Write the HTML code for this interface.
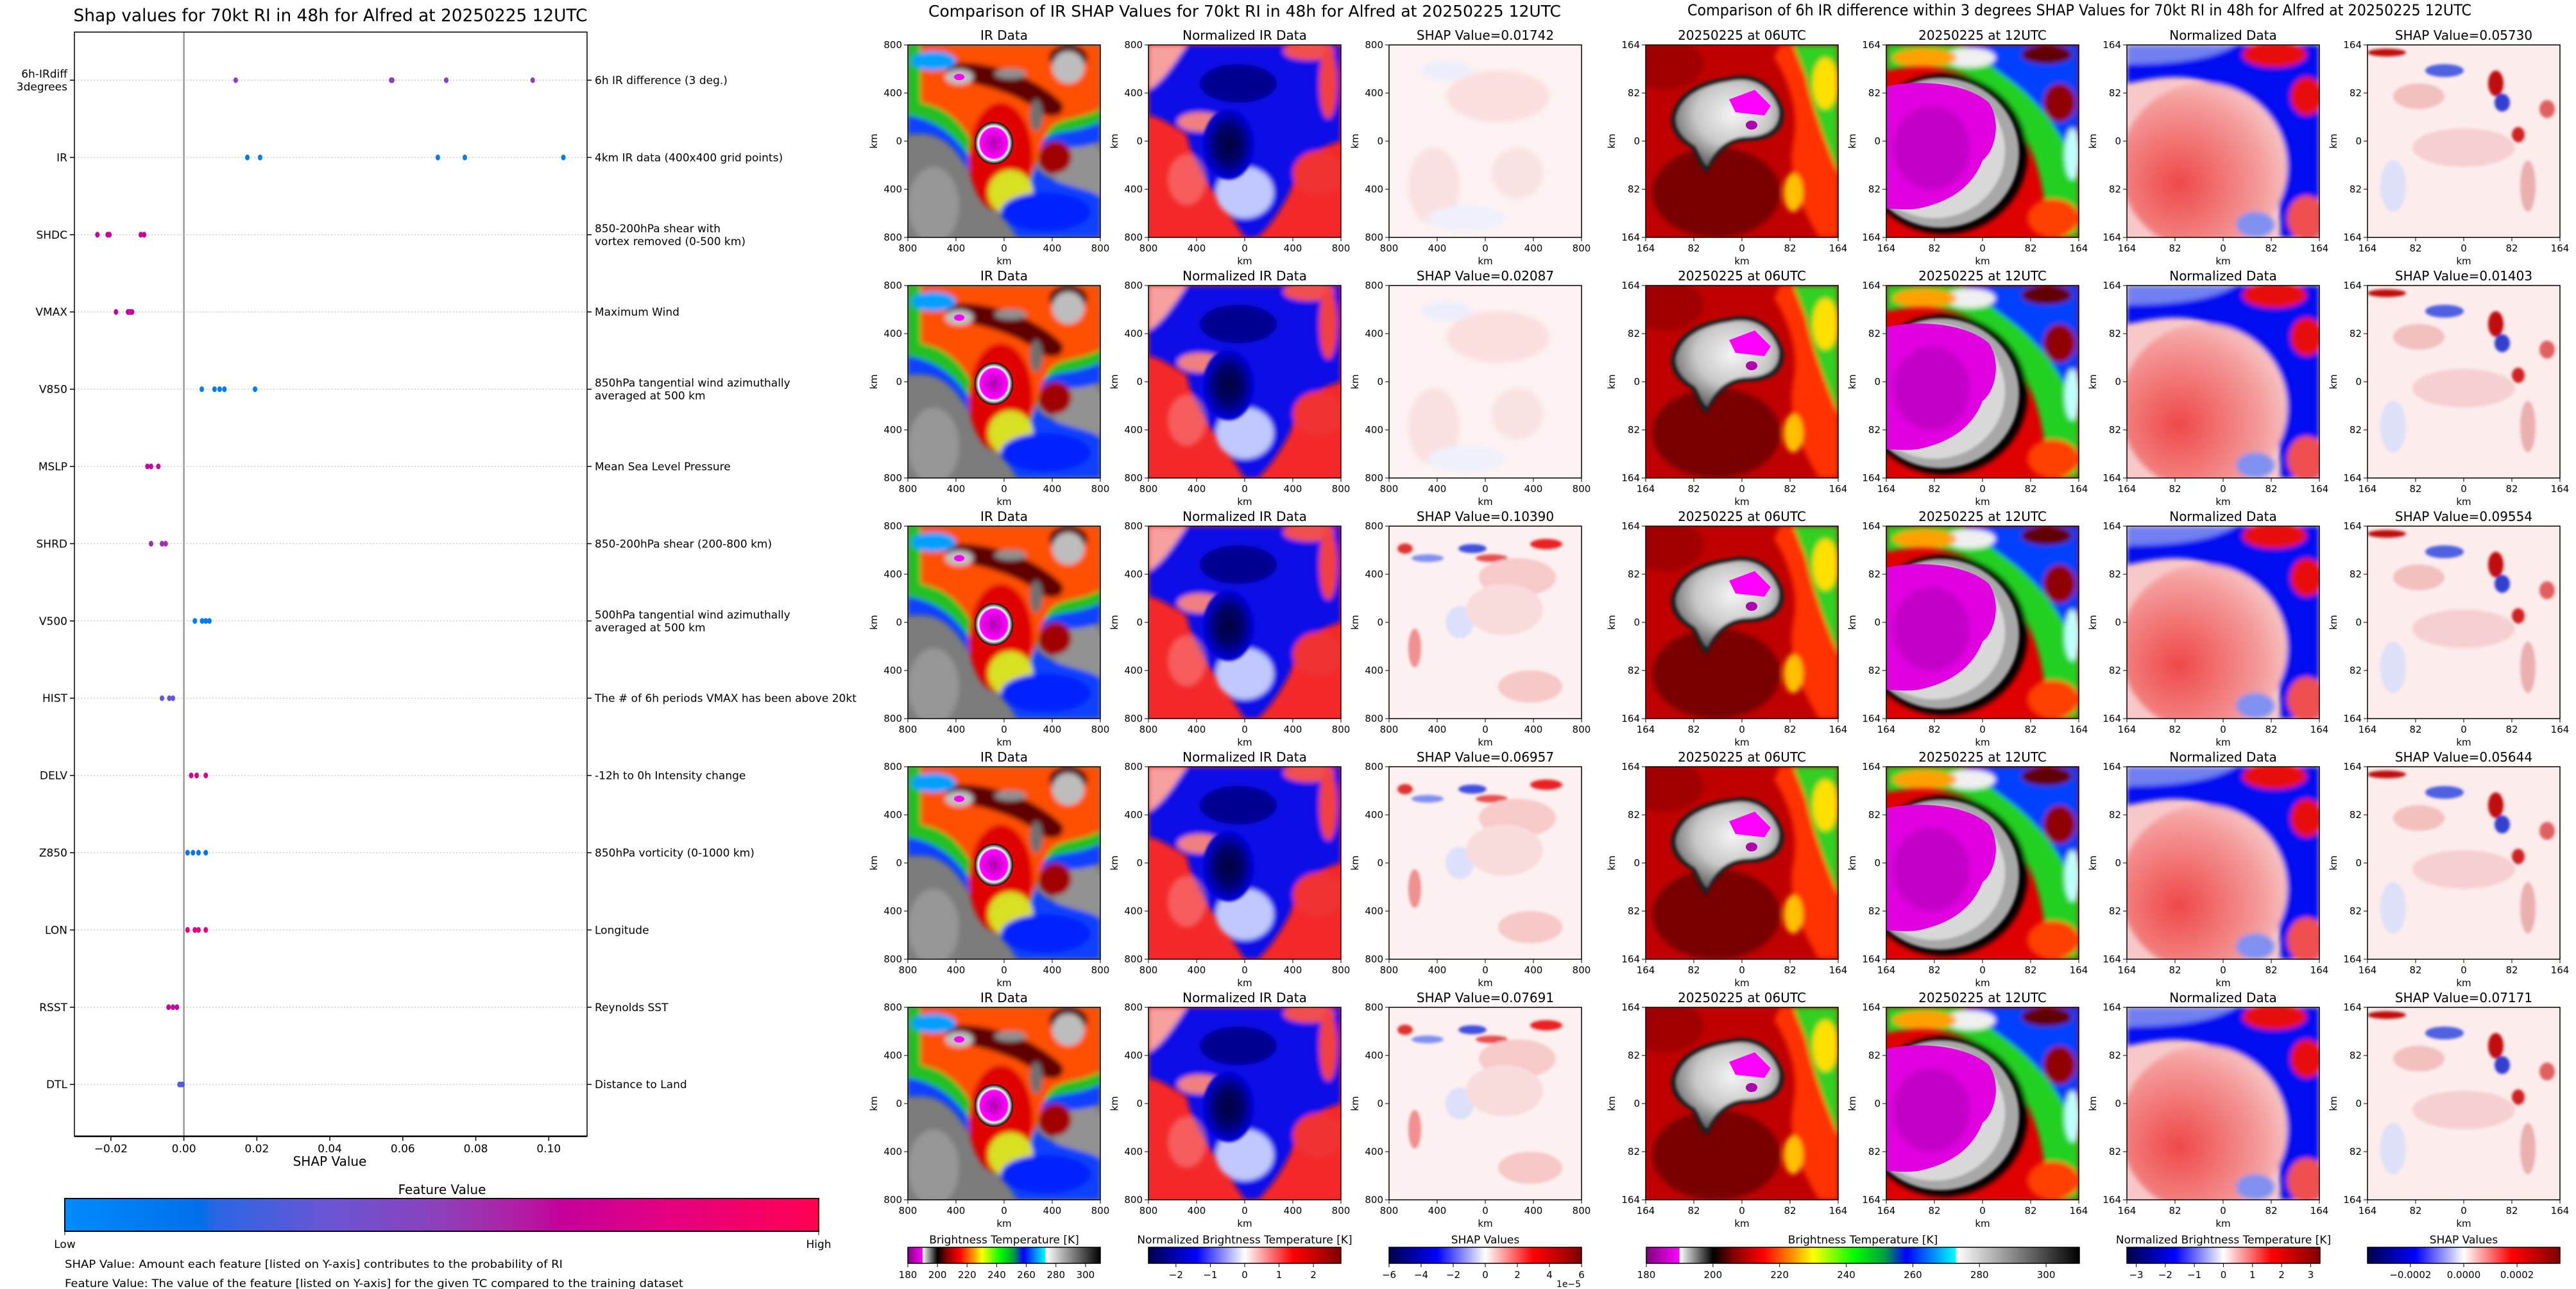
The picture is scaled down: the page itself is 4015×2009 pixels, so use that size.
<!DOCTYPE html>
<html><head><meta charset="utf-8"><title>SHAP RI Alfred</title>
<style>
html,body{margin:0;padding:0;background:#fff;}
svg{display:block;font-family:"DejaVu Sans","Liberation Sans",sans-serif;}
</style></head>
<body>
<svg id="fig" width="4015" height="2009" viewBox="0 0 4015 2009" xmlns="http://www.w3.org/2000/svg">
<defs>
 <filter id="bl" x="-5%" y="-5%" width="110%" height="110%"><feGaussianBlur stdDeviation="4"/></filter>
 <filter id="bl2" x="-5%" y="-5%" width="110%" height="110%"><feGaussianBlur stdDeviation="2"/></filter>
 <clipPath id="pc"><rect x="0" y="0" width="300" height="300"/></clipPath>
 <linearGradient id="gShap" x1="0" x2="1" y1="0" y2="0">
  <stop offset="0" stop-color="#008bfb"/><stop offset="0.18" stop-color="#0070ea"/>
  <stop offset="0.2" stop-color="#2a66e4"/><stop offset="0.35" stop-color="#6a55d4"/>
  <stop offset="0.5" stop-color="#8e3fba"/><stop offset="0.6" stop-color="#b01fa5"/>
  <stop offset="0.66" stop-color="#c5009a"/><stop offset="0.8" stop-color="#e40080"/>
  <stop offset="1" stop-color="#ff0052"/></linearGradient>
 <linearGradient id="gBT" x1="0" x2="1" y1="0" y2="0">
  <stop offset="0" stop-color="#800080"/><stop offset="0.076" stop-color="#ff00ff"/>
  <stop offset="0.077" stop-color="#ffffff"/><stop offset="0.154" stop-color="#000000"/>
  <stop offset="0.2" stop-color="#800000"/><stop offset="0.27" stop-color="#ff0000"/>
  <stop offset="0.33" stop-color="#ff8000"/><stop offset="0.385" stop-color="#ffff00"/>
  <stop offset="0.48" stop-color="#00ff00"/><stop offset="0.55" stop-color="#00a040"/>
  <stop offset="0.6" stop-color="#0000ff"/><stop offset="0.714" stop-color="#00ffff"/>
  <stop offset="0.716" stop-color="#ffffff"/><stop offset="1" stop-color="#000000"/></linearGradient>
 <linearGradient id="gSeis" x1="0" x2="1" y1="0" y2="0">
  <stop offset="0" stop-color="#00004c"/><stop offset="0.25" stop-color="#0000ff"/>
  <stop offset="0.5" stop-color="#ffffff"/><stop offset="0.75" stop-color="#ff0000"/>
  <stop offset="1" stop-color="#800000"/></linearGradient>
 <radialGradient id="rEye" cx="0.5" cy="0.5" r="0.5"><stop offset="0" stop-color="#b000b0"/><stop offset="0.7" stop-color="#ff00ff"/><stop offset="0.8" stop-color="#ffffff"/><stop offset="0.9" stop-color="#808080"/><stop offset="1" stop-color="#000"/></radialGradient>
 <radialGradient id="rNav" cx="0.5" cy="0.5" r="0.5"><stop offset="0" stop-color="#00003c"/><stop offset="0.5" stop-color="#00006a"/><stop offset="1" stop-color="#0000e0"/></radialGradient>
 <radialGradient id="rPale" cx="0.35" cy="0.6" r="0.7"><stop offset="0" stop-color="#f04848"/><stop offset="0.7" stop-color="#f49a9a"/><stop offset="1" stop-color="#f8c8c8"/></radialGradient>
 <radialGradient id="rGray" cx="0.55" cy="0.4" r="0.6"><stop offset="0" stop-color="#f4f4f4"/><stop offset="0.6" stop-color="#c8c8c8"/><stop offset="1" stop-color="#707070"/></radialGradient>

 <symbol id="irImg" viewBox="0 0 300 300">
  <g clip-path="url(#pc)">
  <rect width="300" height="300" fill="#7c7c7c"/>
  <g filter="url(#bl)">
   <ellipse cx="40" cy="250" rx="40" ry="60" fill="#a8a8a8" opacity="0.6"/>
   <ellipse cx="270" cy="200" rx="40" ry="50" fill="#a0a0a0" opacity="0.6"/>
   <path d="M0 0 H300 V150 C260 170 220 150 200 170 C180 220 300 220 300 240 V300 H170 C150 260 120 250 110 220 C80 170 60 130 0 140 Z" fill="#1040ff"/>
   <path d="M0 0 H300 V120 C260 140 230 130 210 150 C190 200 200 230 160 250 C140 240 120 220 110 200 C90 160 60 120 0 110 Z" fill="#20c020"/>
   <path d="M20 0 H300 V100 C260 120 230 110 215 140 C200 180 200 200 170 230 C150 230 130 210 120 190 C100 150 80 100 20 90 Z" fill="#ff5000"/>
   <ellipse cx="145" cy="175" rx="50" ry="85" fill="#e00000"/>
   <ellipse cx="160" cy="230" rx="35" ry="35" fill="#d8e020"/>
   <path d="M60 30 C120 20 200 50 240 90 C250 110 220 120 200 100 C160 70 100 60 60 50 Z" fill="#600000"/>
   <ellipse cx="250" cy="20" rx="30" ry="20" fill="#500000"/>
   <ellipse cx="80" cy="50" rx="22" ry="12" fill="#c0c0c0"/>
   <ellipse cx="160" cy="45" rx="25" ry="8" fill="#909090"/>
   <ellipse cx="250" cy="35" rx="25" ry="25" fill="#bdbdbd"/>
   <ellipse cx="200" cy="110" rx="10" ry="25" fill="#707070"/>
   <ellipse cx="215" cy="260" rx="70" ry="30" fill="#0020ff"/>
   <ellipse cx="40" cy="25" rx="35" ry="15" fill="#00a0ff"/>
   <ellipse cx="230" cy="175" rx="25" ry="25" fill="#a00000"/>
  </g>
  <ellipse cx="134" cy="153" rx="30" ry="33" fill="url(#rEye)"/>
  <ellipse cx="80" cy="50" rx="8" ry="5" fill="#ff00ff"/>
  </g>
 </symbol>
 <symbol id="nirImg" viewBox="0 0 300 300">
  <g clip-path="url(#pc)">
  <rect width="300" height="300" fill="#f42828"/>
  <g filter="url(#bl)">
   <path d="M0 0 H300 V150 C260 160 240 180 220 230 C200 270 180 290 170 300 H150 C120 250 70 200 60 140 C30 120 10 110 0 110 Z" fill="#0a0ae8"/>
   <path d="M0 0 H60 C40 30 20 60 0 70 Z" fill="#f6a0a0"/>
   <ellipse cx="250" cy="10" rx="40" ry="14" fill="#f05050"/>
   <ellipse cx="280" cy="60" rx="14" ry="55" fill="#f04040"/>
   <ellipse cx="150" cy="230" rx="45" ry="40" fill="#c0c8ff"/>
   <ellipse cx="80" cy="120" rx="35" ry="15" fill="#f08080"/>
   <ellipse cx="265" cy="200" rx="40" ry="35" fill="#f03030"/>
   <ellipse cx="60" cy="210" rx="30" ry="40" fill="#f88080" opacity="0.6"/>
   <ellipse cx="140" cy="60" rx="60" ry="30" fill="#000090"/>
  </g>
  <ellipse cx="125" cy="155" rx="40" ry="55" fill="url(#rNav)" filter="url(#bl2)"/>
  </g>
 </symbol>
 <symbol id="sirImg" viewBox="0 0 300 300">
  <rect width="300" height="300" fill="#fdf2f2"/>
  <g filter="url(#bl)">
   <ellipse cx="170" cy="80" rx="80" ry="40" fill="#fbdede"/>
   <ellipse cx="70" cy="220" rx="40" ry="60" fill="#fae0e0"/>
   <ellipse cx="120" cy="270" rx="60" ry="20" fill="#eef0fc"/>
   <ellipse cx="200" cy="200" rx="40" ry="40" fill="#f9e2e2"/>
   <ellipse cx="90" cy="40" rx="40" ry="15" fill="#eceefc"/>
  </g>
 </symbol>
 <symbol id="sirImg2" viewBox="0 0 300 300">
  <rect width="300" height="300" fill="#fdf0f0"/>
  <g filter="url(#bl2)">
   <ellipse cx="25" cy="35" rx="12" ry="8" fill="#e03030"/>
   <ellipse cx="130" cy="35" rx="22" ry="7" fill="#4050e0"/>
   <ellipse cx="160" cy="50" rx="25" ry="6" fill="#e85050"/>
   <ellipse cx="245" cy="28" rx="25" ry="8" fill="#e82020"/>
   <ellipse cx="60" cy="50" rx="25" ry="6" fill="#8090f0"/>
   <ellipse cx="200" cy="80" rx="60" ry="30" fill="#f7caca"/>
   <ellipse cx="110" cy="150" rx="22" ry="25" fill="#dde0fa"/>
   <ellipse cx="40" cy="190" rx="10" ry="30" fill="#f09090"/>
   <ellipse cx="220" cy="250" rx="50" ry="25" fill="#f6c8c8"/>
   <ellipse cx="180" cy="130" rx="60" ry="40" fill="#f8dcdc"/>
  </g>
 </symbol>
 <symbol id="u06Img" viewBox="0 0 300 300">
  <g clip-path="url(#pc)">
  <rect width="300" height="300" fill="#c00000"/>
  <g filter="url(#bl)">
   <ellipse cx="110" cy="230" rx="100" ry="70" fill="#780000"/>
   <ellipse cx="30" cy="30" rx="60" ry="40" fill="#a00000"/>
   <path d="M210 0 H300 V300 H270 C240 250 220 200 230 150 C240 100 220 50 200 20 Z" fill="#ff3000"/>
   <path d="M230 0 H300 V200 C280 150 260 100 250 50 Z" fill="#30d020"/>
   <ellipse cx="280" cy="60" rx="20" ry="40" fill="#ffe000"/>
   <ellipse cx="230" cy="230" rx="15" ry="30" fill="#ffc000"/>
  </g>
  <g filter="url(#bl2)">
   <path d="M40 110 C50 70 90 55 130 50 C170 40 200 60 215 100 C220 130 200 150 160 150 C130 150 110 170 95 200 C80 190 80 170 70 160 C50 150 35 130 40 110 Z" fill="#202020"/>
   <path d="M48 110 C58 76 94 62 130 57 C168 48 196 66 207 100 C210 126 194 142 158 143 C128 144 108 162 96 188 C86 180 84 164 76 156 C58 146 44 128 48 110 Z" fill="url(#rGray)"/>
  </g>
  <path d="M130 85 L170 70 L195 95 L185 110 L140 105 Z" fill="#ff00ff"/>
  <ellipse cx="165" cy="125" rx="9" ry="7" fill="#b000b0"/>
  </g>
 </symbol>
 <symbol id="u12Img" viewBox="0 0 300 300">
  <g clip-path="url(#pc)">
  <rect width="300" height="300" fill="#e00000"/>
  <g filter="url(#bl)">
   <path d="M0 0 H300 V300 H250 C250 200 220 120 150 60 C100 30 50 30 0 40 Z" fill="#20d020"/>
   <path d="M120 0 H300 V200 C280 150 250 100 200 60 Z" fill="#0040ff"/>
   <ellipse cx="250" cy="15" rx="40" ry="15" fill="#600000"/>
   <ellipse cx="270" cy="90" rx="25" ry="30" fill="#900000"/>
   <ellipse cx="130" cy="20" rx="40" ry="15" fill="#f0f0f0"/>
   <ellipse cx="60" cy="20" rx="50" ry="14" fill="#ffa000"/>
   <ellipse cx="260" cy="270" rx="40" ry="30" fill="#ff4000"/>
   <ellipse cx="290" cy="170" rx="12" ry="40" fill="#c0ffff"/>
   <ellipse cx="90" cy="170" rx="130" ry="125" fill="#000"/>
  </g>
  <g filter="url(#bl2)">
   <ellipse cx="85" cy="168" rx="122" ry="117" fill="#a8a8a8"/>
   <ellipse cx="75" cy="165" rx="110" ry="105" fill="#d8d8d8"/>
  </g>
  <path d="M0 65 C40 55 120 55 160 90 C180 120 170 165 150 180 C135 220 100 245 50 255 C30 258 10 255 0 255 Z" fill="#e000e0"/>
  <ellipse cx="70" cy="160" rx="60" ry="65" fill="#b000b8" opacity="0.6" filter="url(#bl)"/>
  </g>
 </symbol>
 <symbol id="ndImg" viewBox="0 0 300 300">
  <g clip-path="url(#pc)">
  <rect width="300" height="300" fill="#f8c8c8"/>
  <g filter="url(#bl)">
   <path d="M0 0 H300 V300 H240 C240 200 210 120 150 70 C100 40 50 50 0 60 Z" fill="#0010f0"/>
   <path d="M0 0 H170 C140 20 80 30 0 30 Z" fill="#7080f0"/>
   <ellipse cx="230" cy="15" rx="50" ry="20" fill="#e81010"/>
   <ellipse cx="280" cy="80" rx="25" ry="30" fill="#e81010"/>
   <ellipse cx="280" cy="270" rx="30" ry="35" fill="#f05050"/>
   <ellipse cx="120" cy="190" rx="130" ry="130" fill="url(#rPale)"/>
   <ellipse cx="200" cy="280" rx="30" ry="20" fill="#8090f0"/>
  </g>
  </g>
 </symbol>
 <symbol id="sdImg" viewBox="0 0 300 300">
  <rect width="300" height="300" fill="#fcecec"/>
  <g filter="url(#bl2)">
   <ellipse cx="30" cy="12" rx="30" ry="6" fill="#c01010"/>
   <ellipse cx="120" cy="40" rx="30" ry="10" fill="#5060e0"/>
   <ellipse cx="200" cy="60" rx="12" ry="20" fill="#c01010"/>
   <ellipse cx="210" cy="90" rx="12" ry="14" fill="#3040d0"/>
   <ellipse cx="235" cy="140" rx="10" ry="12" fill="#d02020"/>
   <ellipse cx="280" cy="100" rx="12" ry="14" fill="#e06060"/>
   <ellipse cx="80" cy="80" rx="40" ry="20" fill="#f3c0c0"/>
   <ellipse cx="150" cy="160" rx="80" ry="30" fill="#f6d0d0"/>
   <ellipse cx="40" cy="220" rx="20" ry="40" fill="#dde0f8"/>
   <ellipse cx="250" cy="220" rx="12" ry="40" fill="#eab0b0"/>
  </g>
 </symbol>
</defs>
<g id="root"></g>
</svg>
<script>
const featureNames = ["6h-IRdiff|3degrees","IR","SHDC","VMAX","V850","MSLP","SHRD","V500","HIST","DELV","Z850","LON","RSST","DTL"];
const featureDescriptions = ["6h IR difference (3 deg.)","4km IR data (400x400 grid points)","850-200hPa shear with|vortex removed (0-500 km)","Maximum Wind","850hPa tangential wind azimuthally|averaged at 500 km","Mean Sea Level Pressure","850-200hPa shear (200-800 km)","500hPa tangential wind azimuthally|averaged at 500 km","The # of 6h periods VMAX has been above 20kt","-12h to 0h Intensity change","850hPa vorticity (0-1000 km)","Longitude","Reynolds SST","Distance to Land"];
const shapValues = [
 [0.0142,0.0568,0.0571,0.0719,0.0956],
 [0.0174,0.0209,0.0696,0.0770,0.1040],
 [-0.0237,-0.0209,-0.0204,-0.0118,-0.0109],
 [-0.0186,-0.0153,-0.0149,-0.0146,-0.0142],
 [0.0049,0.0084,0.0098,0.0111,0.0195],
 [-0.0100,-0.0090,-0.0070],
 [-0.0090,-0.0060,-0.0050],
 [0.0030,0.0050,0.0060,0.0070],
 [-0.0060,-0.0040,-0.0030],
 [0.0020,0.0035,0.0060],
 [0.0010,0.0025,0.0040,0.0060],
 [0.0010,0.0030,0.0040,0.0060],
 [-0.0042,-0.0030,-0.0019],
 [-0.0012,-0.0008,-0.0004]
];
const featureValues = [0.5,0.1,0.65,0.66,0.1,0.64,0.55,0.1,0.35,0.75,0.15,0.8,0.65,0.3];
const xTicks = [-0.02,0.00,0.02,0.04,0.06,0.08,0.10];
const xTickLabels = ["\u22120.02","0.00","0.02","0.04","0.06","0.08","0.10"];

const irShapTitles = ["0.01742","0.02087","0.10390","0.06957","0.07691"];
const diffShapTitles = ["0.05730","0.01403","0.09554","0.05644","0.07171"];
const kmTicks800 = ["800","400","0","400","800"];
const kmTicks164 = ["164","82","0","82","164"];
const btTicks = [180,200,220,240,260,280,300];
const nirTicks = [-2,-1,0,1,2];
const sirTicks = [-6,-4,-2,0,2,4,6];
const ndTicks = [-3,-2,-1,0,1,2,3];
const sdTicks = [-0.0002,0,0.0002];
const sdTickLabels = ["\u22120.0002","0.0000","0.0002"];

const NS="http://www.w3.org/2000/svg";
const root=document.getElementById('root');
function mk(tag,attrs,parent){const e=document.createElementNS(NS,tag);for(const k in attrs)e.setAttribute(k,attrs[k]);(parent||root).appendChild(e);return e;}
function txt(x,y,s,size,anchor,parent,extra){const e=mk('text',Object.assign({x:x,y:y,'font-size':size,'text-anchor':anchor||'middle',fill:'#000'},extra||{}),parent);e.textContent=s;return e;}

const AX={l:116,r:915,t:50,b:1771};
const xMin=-0.0300,xMax=0.1105;
function xs(v){return AX.l+(v-xMin)/(xMax-xMin)*(AX.r-AX.l);}
function ys(i){return 125+i*120.4;}
const cstops=[[0,[0,139,251]],[0.18,[0,112,234]],[0.2,[42,102,228]],[0.35,[106,85,212]],[0.5,[142,63,186]],[0.6,[176,31,165]],[0.66,[197,0,154]],[0.8,[228,0,128]],[1,[255,0,82]]];
function fcol(v){for(let i=1;i<cstops.length;i++){if(v<=cstops[i][0]){const a=cstops[i-1],b=cstops[i];const t=(v-a[0])/(b[0]-a[0]);const c=a[1].map((q,j)=>Math.round(q+(b[1][j]-q)*t));return 'rgb('+c.join(',')+')';}}return 'rgb(255,0,82)';}

const shapG=mk('g',{});


const t1=txt(515,33,"Shap values for 70kt RI in 48h for Alfred at 20250225 12UTC",27,'middle',shapG,{textLength:801,lengthAdjust:'spacingAndGlyphs'});


featureNames.forEach((n,i)=>{
 const y=ys(i);
 const gl=mk('line',{x1:AX.l,x2:AX.r,y1:y,y2:y,stroke:'#cccccc','stroke-width':1.5,'stroke-dasharray':'2,3'},shapG);
 
 
 mk('line',{x1:AX.l-7,x2:AX.l,y1:y,y2:y,stroke:'#000','stroke-width':1.5},shapG);
 mk('line',{x1:AX.r,x2:AX.r+7,y1:y,y2:y,stroke:'#000','stroke-width':1.5},shapG);
 const parts=n.split('|');
 parts.forEach((p,k)=>{const e=txt(AX.l-11,y+6+(k-(parts.length-1)/2)*20,p,17,'end',shapG);
  
  });
 const dp=featureDescriptions[i].split('|');
 dp.forEach((p,k)=>{const e=txt(AX.r+12,y+6+(k-(dp.length-1)/2)*20,p,17,'start',shapG);
  
  });
});
const zl=mk('line',{x1:xs(0),x2:xs(0),y1:AX.t,y2:AX.b,stroke:'#999','stroke-width':2.5},shapG);


shapValues.forEach((arr,i)=>{arr.forEach(v=>{
 const c=mk('ellipse',{cx:xs(v),cy:ys(i),rx:3.5,ry:4.5,fill:fcol(featureValues[i])},shapG);
 
 
});});
const fr=mk('rect',{x:AX.l,y:AX.t,width:AX.r-AX.l,height:AX.b-AX.t,fill:'none',stroke:'#000','stroke-width':1.5},shapG);


mk('line',{x1:AX.l,x2:AX.r,y1:AX.b,y2:AX.b,stroke:'#000','stroke-width':2.5},shapG);
xTicks.forEach((v,i)=>{mk('line',{x1:xs(v),x2:xs(v),y1:AX.b,y2:AX.b+7,stroke:'#000','stroke-width':1.5},shapG);
 const e=txt(xs(v),AX.b+25,xTickLabels[i],17,'middle',shapG);
 
 });
const xl=txt(514,1817,"SHAP Value",20,'middle',shapG);


const cbt=txt(689,1861,"Feature Value",20,'middle',shapG);


const cb=mk('rect',{x:101,y:1868,width:1175,height:51,fill:'url(#gShap)',stroke:'#000','stroke-width':2},shapG);


mk('line',{x1:101,x2:101,y1:1919,y2:1925,stroke:'#000'},shapG);
mk('line',{x1:1276,x2:1276,y1:1919,y2:1925,stroke:'#000'},shapG);
const lo=txt(101,1945,"Low",17,'middle',shapG);
const hi=txt(1276,1945,"High",17,'middle',shapG);
const n1=txt(101,1976,"SHAP Value: Amount each feature [listed on Y-axis] contributes to the probability of RI",17,'start',shapG,{textLength:776,lengthAdjust:'spacingAndGlyphs'});

const n2=txt(101,2006,"Feature Value: The value of the feature [listed on Y-axis] for the given TC compared to the training dataset",17,'start',shapG,{textLength:964,lengthAdjust:'spacingAndGlyphs'});


const rowTops=[70,445,820,1195,1570];
const S=300;
function panel(x,y,sym,title,ticks,name){
 const g=mk('g',{});
 
 
 mk('use',{href:'#'+sym,x:x,y:y,width:S,height:S},g);
 mk('rect',{x:x,y:y,width:S,height:S,fill:'none',stroke:'#000','stroke-width':1.5},g);
 const tt=txt(x+S/2,y-8,title,20,'middle',g);
 
 
 ticks.forEach((lab,i)=>{const p=i*S/4;
  mk('line',{x1:x+p,x2:x+p,y1:y+S,y2:y+S+6,stroke:'#000'},g);
  mk('line',{x1:x-6,x2:x,y1:y+p,y2:y+p,stroke:'#000'},g);
  txt(x+p,y+S+22,lab,15,'middle',g);
  txt(x-9,y+p+5,lab,15,'end',g);});
 txt(x+S/2,y+S+42,'km',15,'middle',g);
 txt(0,0,'km',15,'middle',g,{transform:'translate('+(x-48)+','+(y+S/2)+') rotate(-90)'});
 return g;
}
const c1=[1415,1790,2165], c2=[2565,2940,3315,3690];
rowTops.forEach((y,r)=>{
 panel(c1[0],y,'irImg','IR Data',kmTicks800,'ir-data-panel');
 panel(c1[1],y,'nirImg','Normalized IR Data',kmTicks800,'normalized-ir-panel');
 panel(c1[2],y,r>=2?'sirImg2':'sirImg','SHAP Value='+irShapTitles[r],kmTicks800,'ir-shap-panel');
 panel(c2[0],y,'u06Img','20250225 at 06UTC',kmTicks164,'ir-06utc-panel');
 panel(c2[1],y,'u12Img','20250225 at 12UTC',kmTicks164,'ir-12utc-panel');
 panel(c2[2],y,'ndImg','Normalized Data',kmTicks164,'normalized-diff-panel');
 panel(c2[3],y,'sdImg','SHAP Value='+diffShapTitles[r],kmTicks164,'diff-shap-panel');
});
const mt=txt(1940,26,"Comparison of IR SHAP Values for 70kt RI in 48h for Alfred at 20250225 12UTC",25,'middle',null,{textLength:986,lengthAdjust:'spacingAndGlyphs'});

const rt=txt(3241,24,"Comparison of 6h IR difference within 3 degrees SHAP Values for 70kt RI in 48h for Alfred at 20250225 12UTC",24,'middle',null,{textLength:1222,lengthAdjust:'spacingAndGlyphs'});


function colorbar(x0,x1,grad,vmin,vmax,ticks,labels,title,name){
 const g=mk('g',{});
 
 
 mk('rect',{x:x0,y:1944,width:x1-x0,height:25,fill:'url(#'+grad+')',stroke:'#000','stroke-width':1.5},g);
 txt((x0+x1)/2,1938,title,17,'middle',g);
 ticks.forEach((v,i)=>{const x=x0+(v-vmin)/(vmax-vmin)*(x1-x0);
  mk('line',{x1:x,x2:x,y1:1969,y2:1975,stroke:'#000'},g);
  txt(x,1992,labels[i],15,'middle',g);});
 return g;
}
const minus=v=>String(v).replace('-','\u2212');
colorbar(1415,1715,'gBT',180,310,btTicks,btTicks.map(String),'Brightness Temperature [K]','bt-colorbar-ir');
colorbar(1790,2090,'gSeis',-2.8,2.8,nirTicks,nirTicks.map(minus),'Normalized Brightness Temperature [K]','normalized-colorbar-ir');
colorbar(2165,2465,'gSeis',-6,6,sirTicks,sirTicks.map(minus),'SHAP Values','shap-colorbar-ir');
txt(2445,2006,'1e\u22125',14,'middle');
colorbar(2566,3241,'gBT',180,310,btTicks,btTicks.map(String),'Brightness Temperature [K]','bt-colorbar-diff');
colorbar(3315,3616,'gSeis',-3.32,3.32,ndTicks,ndTicks.map(minus),'Normalized Brightness Temperature [K]','normalized-colorbar-diff');
colorbar(3690,3990,'gSeis',-0.000361,0.000361,sdTicks,sdTickLabels,'SHAP Values','shap-colorbar-diff');
</script>
</body></html>
